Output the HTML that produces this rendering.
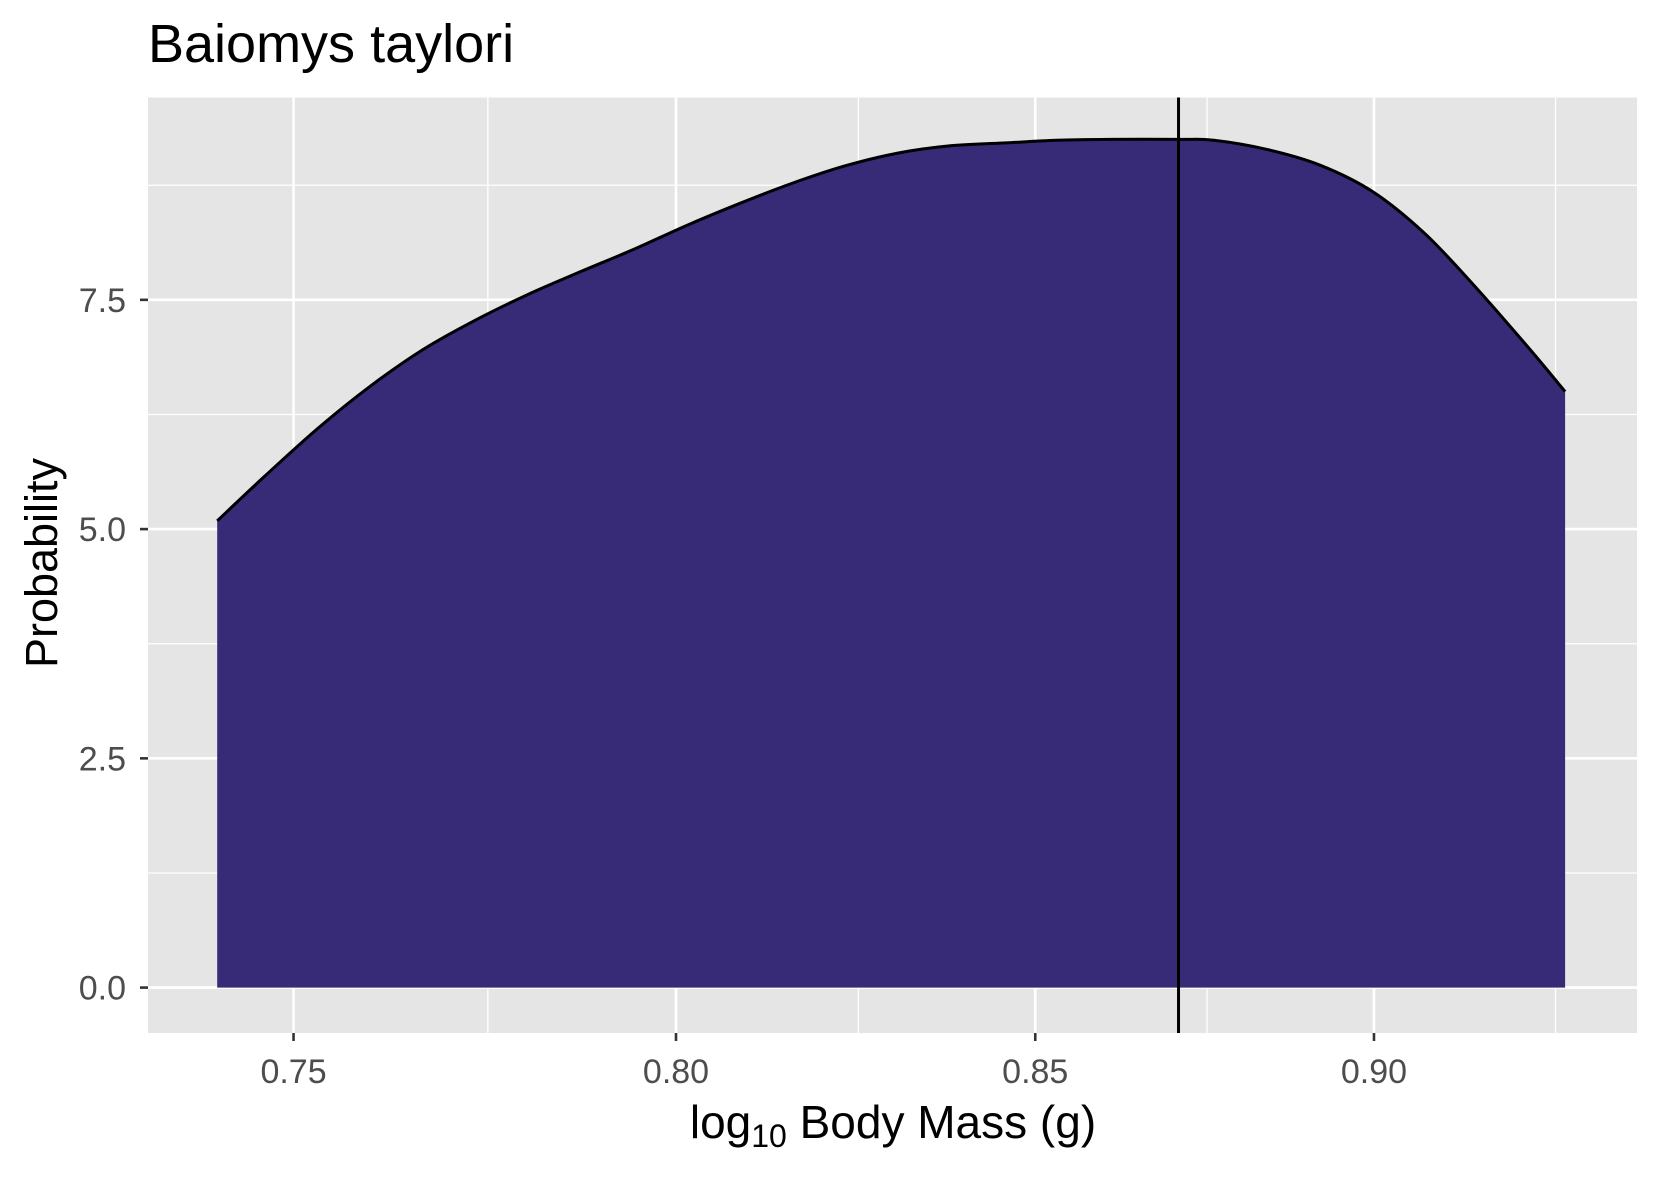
<!DOCTYPE html>
<html><head><meta charset="utf-8"><style>
html,body{margin:0;padding:0;background:#fff;}
svg{display:block;font-family:"Liberation Sans",sans-serif;}
</style></head><body>
<svg id="chart" width="1653" height="1181">
<text x="148" y="62" font-size="54" fill="#000">Baiomys taylori</text>
<rect x="148" y="97.5" width="1489" height="935.5" fill="#e5e5e5"/>
<g id="grid"></g>
<g id="marks"></g>
<g id="axes"></g>
<text x="893" y="1138" font-size="46" text-anchor="middle" fill="#000">log<tspan font-size="32" dy="9">10</tspan><tspan dy="-9"> Body Mass (g)</tspan></text>
<text transform="translate(57,563) rotate(-90)" font-size="45" text-anchor="middle" fill="#000">Probability</text>
</svg>
<script>
const xVals=[0.7404,0.7464,0.7531,0.7598,0.7666,0.7734,0.7803,0.7873,0.7943,0.8014,0.8086,0.8158,0.8231,0.8305,0.8379,0.8454,0.8530,0.8606,0.8709,0.8760,0.8839,0.8918,0.8998,0.9078,0.9158,0.9240,0.9295];
const yVals=[5.09,5.58,6.10,6.56,6.96,7.28,7.56,7.81,8.05,8.31,8.55,8.77,8.96,9.10,9.18,9.21,9.24,9.25,9.25,9.24,9.14,8.97,8.68,8.22,7.62,6.96,6.50];
const xTicks=[0.75,0.80,0.85,0.90];
const xTickLabels=["0.75","0.80","0.85","0.90"];
const xMinor=[0.775,0.825,0.875,0.928];
const yTicks=[0,2.5,5,7.5];
const yTickLabels=["0.0","2.5","5.0","7.5"];
const yMinor=[1.25,3.75,6.25,8.75];
const vLine=0.8708;

const X=v=>676+5926*Math.log(v/0.8);
const Y=v=>987.6-91.7*v;
const L=148,R=1637,T=97.5,B=1033;
const NS='http://www.w3.org/2000/svg';
function mk(tag,attrs,parent){const e=document.createElementNS(NS,tag);for(const k in attrs)e.setAttribute(k,attrs[k]);parent.appendChild(e);return e;}
const grid=document.getElementById('grid'),marks=document.getElementById('marks'),axes=document.getElementById('axes');
yMinor.forEach(v=>{const e=mk('line',{x1:L,x2:R,y1:Y(v),y2:Y(v),stroke:'#fff','stroke-width':1.3},grid);

});
xMinor.forEach(v=>{const e=mk('line',{x1:X(v),x2:X(v),y1:T,y2:B,stroke:'#fff','stroke-width':1.3},grid);

});
yTicks.forEach((v,i)=>{const e=mk('line',{x1:L,x2:R,y1:Y(v),y2:Y(v),stroke:'#fff','stroke-width':2.6},grid);


const t=mk('line',{x1:L-8,x2:L,y1:Y(v),y2:Y(v),stroke:'#333','stroke-width':2.6},axes);


const l=mk('text',{x:L-22,y:Y(v)+12,'font-size':34,'text-anchor':'end',fill:'#4d4d4d'},axes);l.textContent=yTickLabels[i];

});
xTicks.forEach((v,i)=>{const e=mk('line',{x1:X(v),x2:X(v),y1:T,y2:B,stroke:'#fff','stroke-width':2.6},grid);


const t=mk('line',{x1:X(v),x2:X(v),y1:B,y2:B+8,stroke:'#333','stroke-width':2.6},axes);


const l=mk('text',{x:X(v),y:B+50,'font-size':34,'text-anchor':'middle',fill:'#4d4d4d'},axes);l.textContent=xTickLabels[i];

});
const P=xVals.map((x,i)=>[X(x),Y(yVals[i])]);
let ln='M'+P[0][0]+','+P[0][1];
for(let i=0;i<P.length-1;i++){const p0=P[Math.max(0,i-1)],p1=P[i],p2=P[i+1],p3=P[Math.min(P.length-1,i+2)];
ln+=' C'+(p1[0]+(p2[0]-p0[0])/6)+','+(p1[1]+(p2[1]-p0[1])/6)+' '+(p2[0]-(p3[0]-p1[0])/6)+','+(p2[1]-(p3[1]-p1[1])/6)+' '+p2[0]+','+p2[1];}
const d='M'+P[0][0]+','+Y(0)+' L'+ln.slice(1)+' L'+P[P.length-1][0]+','+Y(0)+' Z';
const area=mk('path',{d:d,fill:'#372a77'},marks);


const line=mk('path',{d:ln,fill:'none',stroke:'#000','stroke-width':3,'stroke-linejoin':'round'},marks);


const vl=mk('line',{x1:X(vLine),x2:X(vLine),y1:T,y2:B,stroke:'#000','stroke-width':3},marks);


</script>
</body></html>
